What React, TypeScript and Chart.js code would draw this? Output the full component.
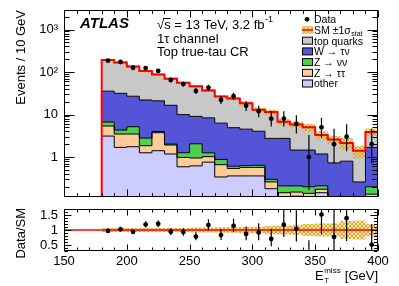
import React, { useEffect, useRef } from 'react';
import { Chart, registerables } from 'chart.js';

Chart.register(...registerables);

const FONT = '"Liberation Sans", Arial, Helvetica, sans-serif';

// ---------------- data ----------------
// E_T^miss bin edges [GeV]
const binEdges = [180, 190, 200, 210, 220, 230, 240, 250, 260, 270, 280, 290, 300, 310, 320, 330, 340, 350, 360, 370, 380, 390, 400];

// MC components (events / 10 GeV)
const other = [3.12, 1.69, 1.75, 1.26, 1.41, 1.18, 0.59, 0.62, 0.76, 0.34, 0.36, 0.36, 0.36, 0.18, 0, 0.12, 0, 0.145, 0, 0, 0, 0];
const zTauTau = [2.24, 1.79, 1.73, 0.59, 2.33, 0.74, 0.39, 0.33, 0.26, 0.32, 0.18, 0.21, 0.21, 0.08, 0.145, 0.03, 0.14, 0.03, 0, 0, 0, 0.134];
const zNuNu = [1.3, 0.84, 1.69, 0.95, 0.26, 0.1, 0.28, 1.1, 0.24, 0.22, 0.07, 0.06, 0.07, 0.04, 0.065, 0.06, 0.06, 0.036, 0, 0, 0, 0.066];
const wTauNu = [28.8, 27.2, 21.8, 19.2, 17.0, 14.5, 8.7, 7.0, 7.1, 5.4, 4.3, 3.9, 3.4, 2.45, 2.54, 1.25, 1.26, 0.97, 0.73, 0.8, 0.26, 1.49];
const topQuarks = [155.5, 136.5, 107, 83, 67, 52.5, 46, 37, 28.6, 20.2, 18.8, 13.9, 9.0, 8.65, 4.05, 4.34, 3.54, 2.12, 1.87, 1.35, 1.14, 2.21];

// relative statistical uncertainty of the SM prediction
const statRel = [0.07, 0.07, 0.07, 0.07, 0.07, 0.07, 0.07, 0.08, 0.08, 0.09, 0.09, 0.11, 0.11, 0.13, 0.15, 0.16, 0.2, 0.22, 0.22, 0.3, 0.32, 0.2];

// observed data and its 68% interval
const dataCounts = [185, 172, 126, 124, 106, 65, 52, 36, 43, 22, 27, 16, 12, 8, 8, 6, 1, 5, 2, 3, 0, 2];
const dataLow = [171.9, 159.4, 115.3, 113.4, 96.2, 57.5, 45.4, 30.4, 36.9, 17.6, 22.0, 12.1, 8.6, 5.2, 5.2, 3.6, 0.17, 2.84, 0.71, 1.37, 0, 0.71];
const dataHigh = [198.6, 185.6, 137.7, 135.6, 116.8, 73.1, 59.2, 42.6, 50.1, 27.2, 32.7, 20.6, 16.0, 11.9, 11.9, 9.6, 3.3, 8.38, 4.64, 5.92, 0, 4.64];

// axis ticks
const yTickValues = [1, 10, 100, 1000];
const yTickLabels = ['1', '10', '10²', '10³'];
const xTickValues = [150, 200, 250, 300, 350, 400];
const xTickLabels = ['150', '200', '250', '300', '350', '400'];
const ratioTickValues = [0.5, 1, 1.5];
const ratioTickLabels = ['0.5', '1', '1.5'];

const legendLabels = ['Data', 'SM ±1σ', 'top quarks', 'W → τν', 'Z → νν', 'Z → ττ', 'other'];

// ---------------- style ----------------
const X_MIN = 150;
const X_MAX = 400;
const Y_MIN = 0.115;
const Y_MAX = 2875;
const R_MIN = 0.3;
const R_MAX = 1.7;
const FLOOR = 1e-3;

const COL = {
  top: '#c8c8c8',
  w: '#5454d6',
  znn: '#4fcf4f',
  ztt: '#ffcc99',
  other: '#ccccff',
  red: '#ff0000',
};

function makeHatch(): CanvasPattern | string {
  const c = document.createElement('canvas');
  c.width = 4;
  c.height = 4;
  const g = c.getContext('2d');
  if (!g) return 'rgba(220,170,40,0.6)';
  g.fillStyle = 'rgba(240,205,100,0.45)';
  g.fillRect(0, 0, 4, 4);
  g.fillStyle = 'rgba(222,165,30,0.95)';
  for (let i = 0; i < 4; i++) {
    g.fillRect(i, i, 1, 1);
    g.fillRect(3 - i, i, 1, 1);
  }
  return g.createPattern(c, 'repeat') || 'rgba(220,170,40,0.6)';
}

function stepPoints(vals: number[]) {
  const pts = vals.map((v, i) => ({ x: binEdges[i], y: Math.max(v, FLOOR) }));
  pts.push({ x: binEdges[binEdges.length - 1], y: Math.max(vals[vals.length - 1], FLOOR) });
  return pts;
}

function cumulate(arrs: number[][]) {
  const out: number[][] = [];
  let acc = arrs[0].map(() => 0);
  for (const a of arrs) {
    acc = acc.map((v, i) => v + a[i]);
    out.push(acc.slice());
  }
  return out;
}

const binCenters = binEdges.slice(0, -1).map((e, i) => (e + binEdges[i + 1]) / 2);
const cum = cumulate([other, zTauTau, zNuNu, wTauNu, topQuarks]);
const total = cum[cum.length - 1];

type TickSpec = {
  xMajor: number[];
  xMinor: number[];
  yMajor: number[];
  yMinor: number[];
  xMaj: number;
  xMin: number;
  yMaj: number;
  yMin: number;
};

function framePlugin(spec: TickSpec) {
  return {
    id: 'frame',
    afterDatasetsDraw(chart: any) {
      const { ctx, chartArea: a, scales } = chart;
      const L = Math.round(a.left) + 0.5;
      const R = Math.round(a.right) - 0.5;
      const T = Math.round(a.top) + 0.5;
      const B = Math.round(a.bottom) - 0.5;
      ctx.save();
      ctx.strokeStyle = '#000';
      ctx.lineWidth = 1;
      ctx.beginPath();
      ctx.rect(L, T, R - L, B - T);
      const tx = (v: number, len: number) => {
        const x = Math.round(scales.x.getPixelForValue(v)) + 0.5;
        ctx.moveTo(x, B);
        ctx.lineTo(x, B - len);
        ctx.moveTo(x, T);
        ctx.lineTo(x, T + len);
      };
      const ty = (v: number, len: number) => {
        const y = Math.round(scales.y.getPixelForValue(v)) + 0.5;
        ctx.moveTo(L, y);
        ctx.lineTo(L + len, y);
        ctx.moveTo(R, y);
        ctx.lineTo(R - len, y);
      };
      spec.xMinor.forEach((v) => tx(v, spec.xMin));
      spec.xMajor.forEach((v) => tx(v, spec.xMaj));
      spec.yMinor.forEach((v) => ty(v, spec.yMin));
      spec.yMajor.forEach((v) => ty(v, spec.yMaj));
      ctx.stroke();
      ctx.restore();
    },
  };
}

function errorBarPlugin(xs: number[], lo: number[], hi: number[]) {
  return {
    id: 'errbars',
    afterDatasetsDraw(chart: any) {
      const { ctx, chartArea: a, scales } = chart;
      ctx.save();
      ctx.beginPath();
      ctx.rect(a.left, a.top, a.right - a.left, a.bottom - a.top);
      ctx.clip();
      ctx.strokeStyle = '#000';
      ctx.lineWidth = 1.2;
      ctx.beginPath();
      xs.forEach((xv, i) => {
        if (!(hi[i] > 0)) return;
        const px = scales.x.getPixelForValue(xv);
        const y1 = lo[i] > 0 ? scales.y.getPixelForValue(lo[i]) : a.bottom + 5;
        const y2 = scales.y.getPixelForValue(hi[i]);
        ctx.moveTo(px, Math.min(y1, a.bottom + 5));
        ctx.lineTo(px, y2);
      });
      ctx.stroke();
      ctx.restore();
    },
  };
}

function logMinorTicks() {
  const out: number[] = [];
  for (let k = -1; k <= 3; k++) {
    for (let d = 2; d <= 9; d++) {
      const v = d * Math.pow(10, k);
      if (v >= Y_MIN && v <= Y_MAX) out.push(v);
    }
  }
  return out;
}

function rangeTicks(a: number, b: number, step: number) {
  const out: number[] = [];
  for (let v = a; v <= b + 1e-9; v += step) out.push(Math.round(v * 1000) / 1000);
  return out;
}

function mainTextPlugin(hatch: CanvasPattern | string) {
  return {
    id: 'mainText',
    afterDraw(chart: any) {
      const ctx: CanvasRenderingContext2D = chart.ctx;
      ctx.save();
      ctx.fillStyle = '#000';
      ctx.textBaseline = 'alphabetic';
      ctx.textAlign = 'left';
      // ATLAS label
      ctx.font = `italic bold 15px ${FONT}`;
      ctx.fillText('ATLAS', 80, 28);
      // energy / lumi
      ctx.font = `13px ${FONT}`;
      const s1 = '√s = 13 TeV, 3.2 fb';
      const x0 = 157;
      ctx.fillText(s1, x0, 28.5);
      const wSqrt = ctx.measureText('√').width;
      const wS = ctx.measureText('s').width;
      const w1 = ctx.measureText(s1).width;
      ctx.strokeStyle = '#000';
      ctx.lineWidth = 1;
      ctx.beginPath();
      ctx.moveTo(x0 + wSqrt - 1, 18.5);
      ctx.lineTo(x0 + wSqrt + wS, 18.5);
      ctx.stroke();
      ctx.font = `9px ${FONT}`;
      ctx.fillText('-1', x0 + w1 + 0.5, 22);
      ctx.font = `13px ${FONT}`;
      ctx.fillText('1τ channel', 157, 43);
      ctx.fillText('Top true-tau CR', 157, 56);

      // y title
      ctx.save();
      ctx.translate(25, 10);
      ctx.rotate(-Math.PI / 2);
      ctx.textAlign = 'right';
      ctx.font = `13px ${FONT}`;
      ctx.fillText('Events / 10 GeV', 0, 0);
      ctx.restore();

      // legend
      const bx = 302;
      const tx = 314;
      const y0 = 19.3;
      const dy = 10.7;
      const fills = ['', '', COL.top, COL.w, COL.znn, COL.ztt, COL.other];
      legendLabels.forEach((lab, i) => {
        const y = y0 + i * dy;
        if (i === 0) {
          ctx.beginPath();
          ctx.arc(bx + 5, y, 2.4, 0, Math.PI * 2);
          ctx.fillStyle = '#000';
          ctx.fill();
        } else if (i === 1) {
          ctx.fillStyle = hatch as any;
          ctx.fillRect(bx, y - 4, 11, 8);
          ctx.strokeStyle = COL.red;
          ctx.lineWidth = 1.5;
          ctx.beginPath();
          ctx.moveTo(bx, y);
          ctx.lineTo(bx + 11, y);
          ctx.stroke();
        } else {
          ctx.fillStyle = fills[i];
          ctx.fillRect(bx + 0.5, y - 3.5, 10, 7);
          ctx.strokeStyle = '#000';
          ctx.lineWidth = 1;
          ctx.strokeRect(bx + 0.5, y - 3.5, 10, 7);
        }
        ctx.fillStyle = '#000';
        ctx.font = `10.5px ${FONT}`;
        ctx.fillText(lab, tx, y + 3.8);
        if (i === 1) {
          const w = ctx.measureText(lab).width;
          ctx.font = `7px ${FONT}`;
          ctx.fillText('stat', tx + w + 0.5, y + 6);
        }
      });
      ctx.restore();
    },
  };
}

const ratioTextPlugin = {
  id: 'ratioText',
  afterDraw(chart: any) {
    const ctx: CanvasRenderingContext2D = chart.ctx;
    ctx.save();
    ctx.fillStyle = '#000';
    ctx.textBaseline = 'alphabetic';
    // y title
    ctx.save();
    ctx.translate(25, 8);
    ctx.rotate(-Math.PI / 2);
    ctx.textAlign = 'right';
    ctx.font = `13px ${FONT}`;
    ctx.fillText('Data/SM', 0, 0);
    ctx.restore();
    // x title E_T^miss [GeV]
    const right = chart.chartArea.right;
    const base = 80;
    ctx.font = `13px ${FONT}`;
    const wE = ctx.measureText('E').width;
    const wG = ctx.measureText(' [GeV]').width;
    ctx.font = `8px ${FONT}`;
    const wM = ctx.measureText('miss').width;
    const xs = right - wG - wM - wE - 1;
    ctx.font = `13px ${FONT}`;
    ctx.textAlign = 'left';
    ctx.fillText('E', xs, base);
    ctx.font = `8px ${FONT}`;
    ctx.fillText('miss', xs + wE + 0.5, base - 7.5);
    ctx.fillText('T', xs + wE + 0.5, base + 3);
    ctx.font = `13px ${FONT}`;
    ctx.fillText(' [GeV]', xs + wE + wM + 1, base);
    ctx.restore();
  },
};

function mainConfig(hatch: CanvasPattern | string): any {
  const fills = [COL.other, COL.ztt, COL.znn, COL.w, COL.top];
  const stack = cum.map((c, k) => ({
    data: stepPoints(c),
    stepped: true,
    borderColor: k === 4 ? '#777' : '#000',
    borderWidth: 1,
    backgroundColor: fills[k],
    fill: k === 0 ? 'start' : '-1',
    pointRadius: 0,
    order: 20 - k,
    clip: 0,
  }));
  const bandLo = total.map((t, i) => t * (1 - statRel[i]));
  const bandHi = total.map((t, i) => t * (1 + statRel[i]));
  const dataPts = binCenters
    .map((x, i) => ({ x, y: dataCounts[i] }))
    .filter((p) => p.y > 0);
  return {
    type: 'line',
    data: {
      datasets: [
        ...stack,
        { data: stepPoints(bandLo), stepped: true, borderWidth: 0, borderColor: 'rgba(0,0,0,0)', fill: false, pointRadius: 0, order: 6, clip: 0 },
        { data: stepPoints(bandHi), stepped: true, borderWidth: 0, borderColor: 'rgba(0,0,0,0)', backgroundColor: hatch, fill: '-1', pointRadius: 0, order: 5, clip: 0 },
        { data: [{ x: X_MIN, y: Y_MIN }, ...stepPoints(total)], stepped: true, borderColor: COL.red, borderWidth: 2, fill: false, pointRadius: 0, order: 3, clip: 0 },
        { data: dataPts, showLine: false, pointRadius: 2.4, pointBackgroundColor: '#000', pointBorderWidth: 0, order: 1, clip: 0 },
      ],
    },
    options: {
      animation: false,
      responsive: false,
      maintainAspectRatio: false,
      events: [],
      layout: { padding: { top: 10, right: 21, bottom: 9, left: 0 } },
      plugins: {
        legend: { display: false },
        tooltip: { enabled: false },
        filler: { drawTime: 'beforeDatasetsDraw' },
      },
      scales: {
        x: { type: 'linear', min: X_MIN, max: X_MAX, display: false },
        y: {
          type: 'logarithmic',
          min: Y_MIN,
          max: Y_MAX,
          grid: { display: false, drawTicks: true, tickLength: 6 },
          border: { display: false },
          ticks: {
            autoSkip: false,
            padding: 0,
            color: '#000',
            font: { family: FONT, size: 13 },
            callback: (v: any) => {
              const i = yTickValues.indexOf(Number(v));
              return i >= 0 ? yTickLabels[i] : '';
            },
          },
          afterBuildTicks: (s: any) => {
            s.ticks = yTickValues.map((v) => ({ value: v }));
          },
          afterFit: (s: any) => {
            s.width = 64;
          },
        },
      },
    },
    plugins: [
      errorBarPlugin(binCenters, dataLow, dataHigh),
      framePlugin({
        xMajor: rangeTicks(150, 400, 50),
        xMinor: rangeTicks(150, 400, 10),
        yMajor: yTickValues,
        yMinor: logMinorTicks(),
        xMaj: 7,
        xMin: 3.5,
        yMaj: 10,
        yMin: 5,
      }),
      mainTextPlugin(hatch),
    ],
  };
}

function ratioConfig(hatch: CanvasPattern | string): any {
  const ratio = binCenters
    .map((x, i) => ({ x, y: dataCounts[i] / total[i] }))
    .filter((_, i) => dataCounts[i] > 0);
  const rLo = dataLow.map((v, i) => v / total[i]);
  const rHi = dataHigh.map((v, i) => v / total[i]);
  return {
    type: 'line',
    data: {
      datasets: [
        { data: stepPoints(statRel.map((s) => 1 - s)), stepped: true, borderWidth: 0, borderColor: 'rgba(0,0,0,0)', fill: false, pointRadius: 0, order: 6, clip: 0 },
        { data: stepPoints(statRel.map((s) => 1 + s)), stepped: true, borderWidth: 0, borderColor: 'rgba(0,0,0,0)', backgroundColor: hatch, fill: '-1', pointRadius: 0, order: 5, clip: 0 },
        { data: [{ x: X_MIN, y: 1 }, { x: X_MAX, y: 1 }], borderColor: COL.red, borderWidth: 1.6, fill: false, pointRadius: 0, order: 3, clip: 0 },
        { data: ratio, showLine: false, pointRadius: 2.4, pointBackgroundColor: '#000', pointBorderWidth: 0, order: 1, clip: 0 },
      ],
    },
    options: {
      animation: false,
      responsive: false,
      maintainAspectRatio: false,
      events: [],
      layout: { padding: { top: 9, right: 21, bottom: 0, left: 0 } },
      plugins: {
        legend: { display: false },
        tooltip: { enabled: false },
        filler: { drawTime: 'beforeDatasetsDraw' },
      },
      scales: {
        x: {
          type: 'linear',
          min: X_MIN,
          max: X_MAX,
          grid: { display: false, drawTicks: false },
          border: { display: false },
          ticks: {
            autoSkip: false,
            padding: 3,
            maxRotation: 0,
            color: '#000',
            font: { family: FONT, size: 13 },
            callback: (v: any) => {
              const i = xTickValues.indexOf(Number(v));
              return i >= 0 ? xTickLabels[i] : '';
            },
          },
          afterBuildTicks: (s: any) => {
            s.ticks = xTickValues.map((v) => ({ value: v }));
          },
          afterFit: (s: any) => {
            s.height = 35;
          },
        },
        y: {
          type: 'linear',
          min: R_MIN,
          max: R_MAX,
          grid: { display: false, drawTicks: true, tickLength: 6 },
          border: { display: false },
          ticks: {
            autoSkip: false,
            padding: 0,
            color: '#000',
            font: { family: FONT, size: 13 },
            callback: (v: any) => {
              const i = ratioTickValues.indexOf(Number(v));
              return i >= 0 ? ratioTickLabels[i] : '';
            },
          },
          afterBuildTicks: (s: any) => {
            s.ticks = ratioTickValues.map((v) => ({ value: v }));
          },
          afterFit: (s: any) => {
            s.width = 64;
          },
        },
      },
    },
    plugins: [
      errorBarPlugin(binCenters, rLo, rHi),
      framePlugin({
        xMajor: rangeTicks(150, 400, 50),
        xMinor: rangeTicks(150, 400, 10),
        yMajor: ratioTickValues,
        yMinor: rangeTicks(0.3, 1.7, 0.1),
        xMaj: 6,
        xMin: 3,
        yMaj: 7,
        yMin: 3.5,
      }),
      ratioTextPlugin,
    ],
  };
}

export default function App() {
  const mainRef = useRef<HTMLCanvasElement>(null);
  const ratioRef = useRef<HTMLCanvasElement>(null);
  useEffect(() => {
    if (!mainRef.current || !ratioRef.current) return;
    const hatch = makeHatch();
    const m = new Chart(mainRef.current, mainConfig(hatch));
    const r = new Chart(ratioRef.current, ratioConfig(hatch));
    return () => {
      m.destroy();
      r.destroy();
    };
  }, []);
  return (
    <div style={{ position: 'absolute', left: 0, top: 0, width: 399, height: 286, background: '#fff', overflow: 'hidden' }}>
      <canvas ref={mainRef} width={399} height={206} style={{ position: 'absolute', left: 0, top: 0, width: 399, height: 206 }} />
      <canvas ref={ratioRef} width={399} height={86} style={{ position: 'absolute', left: 0, top: 200, width: 399, height: 86 }} />
    </div>
  );
}
